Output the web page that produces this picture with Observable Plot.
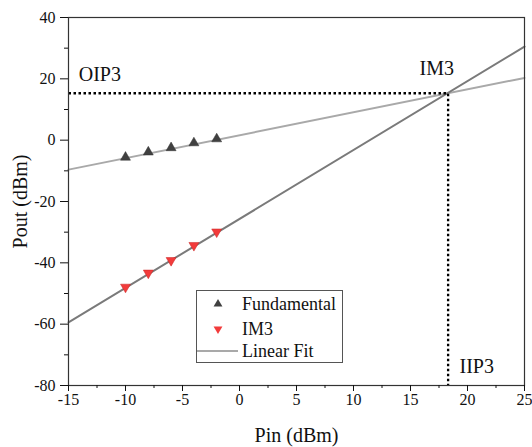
<!DOCTYPE html>
<html>
<head>
<meta charset="utf-8">
<script src="https://cdn.jsdelivr.net/npm/d3@7"></script>
<script src="https://cdn.jsdelivr.net/npm/@observablehq/plot@0.6"></script>
<style>
  html, body { margin: 0; padding: 0; background: #fff; }
  #wrap { position: relative; width: 532px; height: 447px; font-family: "Liberation Serif", "Times New Roman", serif; }
  #wrap svg text { font-family: "Liberation Serif", "Times New Roman", serif !important; }
</style>
</head>
<body>
<div id="wrap"></div>
<script>
// ---- data ----
const xDomain = [-15, 25];
const yDomain = [-80, 40];
const xTicks = [-15, -10, -5, 0, 5, 10, 15, 20, 25];
const xMinorTicks = [-12.5, -7.5, -2.5, 2.5, 7.5, 12.5, 17.5, 22.5];
const yTicks = [-80, -60, -40, -20, 0, 20, 40];
const yMinorTicks = [-70, -50, -30, -10, 10, 30];

const pin = [-10, -8, -6, -4, -2];
const fundamental = [-5.6, -3.9, -2.5, -0.9, 0.4];
const im3 = [-47.9, -43.3, -39.2, -34.3, -29.9];

const fitX = [-15, 25];
const fundFitY = [-9.6, 20.3];
const im3FitY = [-59.4, 30.5];

const iip3 = 18.3;
const oip3 = 15.3;

const labelText = ["OIP3", "IM3", "IIP3"];
const labelX = [-14.1, 17.3, 19.3];
const labelY = [19.2, 21.2, -75.8];
const labelAnchor = ["start", "middle", "start"];

const legendNames = ["Fundamental", "IM3", "Linear Fit"];

// ---- symbols ----
const triUp = {draw(c, s) { const y = -Math.sqrt(s / (3 * Math.sqrt(3))); c.moveTo(0, 2 * y); c.lineTo(-Math.sqrt(3) * y, -y); c.lineTo(Math.sqrt(3) * y, -y); c.closePath(); }};
const triDown = {draw(c, s) { const y = Math.sqrt(s / (3 * Math.sqrt(3))); c.moveTo(0, 2 * y); c.lineTo(-Math.sqrt(3) * y, -y); c.lineTo(Math.sqrt(3) * y, -y); c.closePath(); }};

const fundPts = pin.map((x, i) => ({x, y: fundamental[i]}));
const im3Pts = pin.map((x, i) => ({x, y: im3[i]}));
const fundFit = fitX.map((x, i) => ({x, y: fundFitY[i]}));
const im3Fit = fitX.map((x, i) => ({x, y: im3FitY[i]}));
const ip3Path = [{x: xDomain[0], y: oip3}, {x: iip3, y: oip3}, {x: iip3, y: yDomain[0]}];
const labels = labelText.map((t, i) => ({t, x: labelX[i], y: labelY[i], a: labelAnchor[i]}));

const font = "'Liberation Serif', 'Times New Roman', serif";
const fmt = d => String(d);

const chart = Plot.plot({
  width: 532,
  height: 447,
  marginLeft: 68,
  marginRight: 8,
  marginTop: 17,
  marginBottom: 62,
  x: {domain: xDomain},
  y: {domain: yDomain},
  style: {fontFamily: font, fontSize: "16px", color: "#111", background: "#fff"},
  marks: [
    Plot.line(fundFit, {x: "x", y: "y", stroke: "#a9a9a9", strokeWidth: 2}),
    Plot.line(im3Fit, {x: "x", y: "y", stroke: "#7a7a7a", strokeWidth: 2}),
    Plot.line(ip3Path, {x: "x", y: "y", stroke: "#000", strokeWidth: 2.3, strokeDasharray: "2.5,2.5", strokeLinecap: "butt"}),
    Plot.dot(fundPts, {x: "x", y: "y", symbol: triUp, r: 3.7, fill: "#404040", stroke: "#333", strokeWidth: 0.5}),
    Plot.dot(im3Pts, {x: "x", y: "y", symbol: triDown, r: 3.7, fill: "#f23b3b", stroke: "#c82222", strokeWidth: 0.5}),
    Plot.text(labels, {x: "x", y: "y", text: "t", textAnchor: "start", lineAnchor: "bottom", fontSize: 20, fontFamily: font, fill: "#111", filter: d => d.a === "start"}),
    Plot.text(labels, {x: "x", y: "y", text: "t", textAnchor: "middle", lineAnchor: "bottom", fontSize: 20, fontFamily: font, fill: "#111", filter: d => d.a === "middle"}),
    Plot.frame({stroke: "#333", strokeWidth: 1.2}),
    Plot.axisX(xTicks, {tickSize: 6, tickPadding: 2, fontSize: 16, fontFamily: font, tickFormat: fmt, label: null, stroke: "#111"}),
    Plot.axisX(xMinorTicks, {tickSize: 3, tickFormat: () => "", label: null, stroke: "#111"}),
    Plot.axisY(yTicks, {tickSize: 8, tickPadding: 5, fontSize: 16, fontFamily: font, tickFormat: fmt, label: null, stroke: "#111"}),
    Plot.axisY(yMinorTicks, {tickSize: 4, tickFormat: () => "", label: null, stroke: "#111"}),
    Plot.text(["Pin (dBm)"], {frameAnchor: "bottom", dy: 50, lineAnchor: "middle", fontSize: 20, fontFamily: font, fill: "#111"}),
    Plot.text(["Pout (dBm)"], {frameAnchor: "left", dx: -48, rotate: -90, lineAnchor: "middle", textAnchor: "middle", fontSize: 20, fontFamily: font, fill: "#111"})
  ]
});
document.getElementById("wrap").appendChild(chart);

// ---- legend overlay ----
const lw = 147, lh = 73;
const leg = d3.create("svg").attr("width", lw).attr("height", lh)
  .style("position", "absolute").style("left", "196px").style("top", "290px");
leg.append("rect").attr("x", 0.5).attr("y", 0.5).attr("width", lw - 1).attr("height", lh - 1)
  .attr("fill", "#fff").attr("stroke", "#555").attr("stroke-width", 1);
const rowY = [14, 39, 61];
const sym = d3.symbol().size(34);
leg.append("path").attr("d", sym.type(triUp)()).attr("transform", `translate(22,${rowY[0]})`).attr("fill", "#404040");
leg.append("path").attr("d", sym.type(triDown)()).attr("transform", `translate(22,${rowY[1]})`).attr("fill", "#f23b3b");
leg.append("line").attr("x1", 1).attr("x2", 42).attr("y1", rowY[2]).attr("y2", rowY[2]).attr("stroke", "#a9a9a9").attr("stroke-width", 2);
legendNames.forEach((n, i) => {
  leg.append("text").attr("x", 46).attr("y", rowY[i] + 6).text(n)
    .style("font-family", font).attr("font-size", 18).attr("fill", "#111");
});
document.getElementById("wrap").appendChild(leg.node());
</script>
</body>
</html>
